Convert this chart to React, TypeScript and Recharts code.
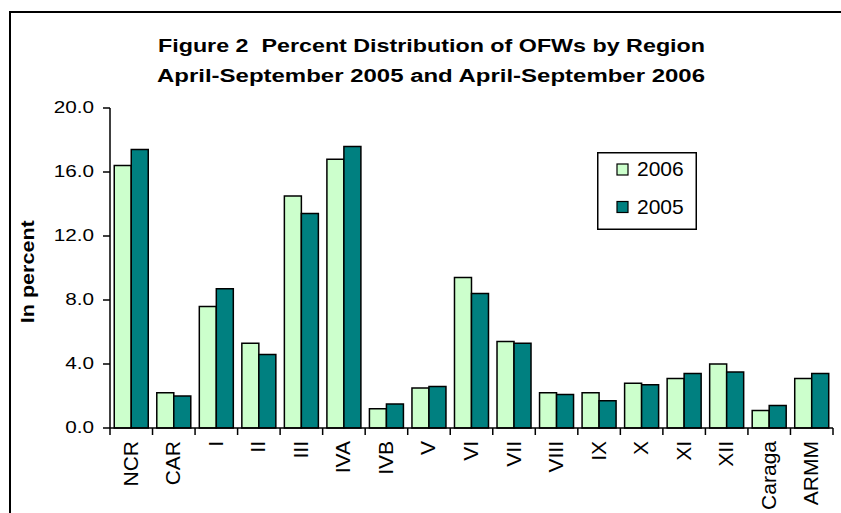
import React from 'react';
import { BarChart, Bar, XAxis, YAxis, Legend } from 'recharts';

const regions = ['NCR', 'CAR', 'I', 'II', 'III', 'IVA', 'IVB', 'V', 'VI', 'VII', 'VIII', 'IX', 'X', 'XI', 'XII', 'Caraga', 'ARMM'];
const values2006 = [16.4, 2.2, 7.6, 5.3, 14.5, 16.8, 1.2, 2.5, 9.4, 5.4, 2.2, 2.2, 2.8, 3.1, 4.0, 1.1, 3.1];
const values2005 = [17.4, 2.0, 8.7, 4.6, 13.4, 17.6, 1.5, 2.6, 8.4, 5.3, 2.1, 1.7, 2.7, 3.4, 3.5, 1.4, 3.4];
const yTicks = [0, 4, 8, 12, 16, 20];
const titleLines = ['Figure 2  Percent Distribution of OFWs by Region', 'April-September 2005 and April-September 2006'];
const seriesNames = ['2006', '2005'];

const data = regions.map((r, i) => ({ region: r, y2006: values2006[i], y2005: values2005[i] }));

const FONT = "'Liberation Sans', Arial, sans-serif";
const LIGHT = '#CCFFCC';
const TEAL = '#008080';

const YTick = (props: any) => {
  const { x, y, payload } = props;
  return (
    <g transform={`translate(${x},${y})`}>
      <text transform="scale(1.22,1)" textAnchor="end" dy={4.6} fontSize={17} fill="#000" fontFamily={FONT}>
        {Number(payload.value).toFixed(1)}
      </text>
    </g>
  );
};

const XTick = (props: any) => {
  const { x, y, payload, index, visibleTicksCount } = props;
  const half = payload.offset;
  const axisY = y - 13;
  return (
    <g>
      <line x1={x - half} x2={x - half} y1={axisY} y2={axisY + 7} stroke="#000" strokeWidth={1.5} />
      {index === visibleTicksCount - 1 && (
        <line x1={x + half} x2={x + half} y1={axisY} y2={axisY + 7} stroke="#000" strokeWidth={1.5} />
      )}
      <text transform={`translate(${x + 6.5},${y}) rotate(-90)`} textAnchor="end" fontSize={21} fill="#000" fontFamily={FONT}>
        {payload.value}
      </text>
    </g>
  );
};

const YLabel = (props: any) => {
  const { viewBox } = props;
  const cy = viewBox.y + viewBox.height / 2 + 3.7;
  return (
    <text transform={`translate(34,${cy}) rotate(-90)`} textAnchor="middle" fontSize={17.5} fontWeight="bold" fill="#000" fontFamily={FONT} textLength={103} lengthAdjust="spacingAndGlyphs">
      In percent
    </text>
  );
};

const LegendBox = () => {
  const colors = [LIGHT, TEAL];
  return (
    <svg width={100} height={78} style={{ display: 'block' }}>
      <rect x={0.75} y={0.75} width={98.5} height={76.5} fill="#fff" stroke="#000" strokeWidth={1.5} />
      {seriesNames.map((n, i) => (
        <g key={n}>
          <rect x={20} y={12 + i * 37.5} width={11} height={11} fill={colors[i]} stroke="#000" strokeWidth={1.2} />
          <text x={40} y={24 + i * 37.5} fontSize={21} fontFamily={FONT} fill="#000">{n}</text>
        </g>
      ))}
    </svg>
  );
};

export default function App() {
  return (
    <div style={{ position: 'absolute', left: 0, top: 0, width: 841, height: 513, overflow: 'hidden', background: '#fff' }}>
      <div style={{ position: 'absolute', left: 9, top: 11, width: 900, height: 600, border: '2px solid #000', boxSizing: 'border-box' }} />
      <svg width={841} height={100} style={{ position: 'absolute', left: 0, top: 0 }}>
        <text x={431.5} y={51.7} textAnchor="middle" fontSize={18.8} fontWeight="bold" fontFamily={FONT} fill="#000" textLength={547} lengthAdjust="spacingAndGlyphs" style={{ whiteSpace: 'pre' }}>
          {titleLines[0]}
        </text>
        <text x={431} y={82} textAnchor="middle" fontSize={18.8} fontWeight="bold" fontFamily={FONT} fill="#000" textLength={548} lengthAdjust="spacingAndGlyphs" style={{ whiteSpace: 'pre' }}>
          {titleLines[1]}
        </text>
      </svg>
      <div style={{ position: 'absolute', left: 0, top: 0 }}>
        <BarChart width={841} height={513} data={data} margin={{ top: 108, right: 8, bottom: 0, left: 0 }} barCategoryGap="10%" barGap={0}>
          <XAxis dataKey="region" height={85} interval={0} tickLine={false} tickSize={6} tickMargin={7} axisLine={{ stroke: '#000', strokeWidth: 1.5 }} tick={<XTick />} />
          <YAxis width={110} domain={[0, 20]} ticks={yTicks} interval={0} tickSize={7} tickMargin={9} axisLine={{ stroke: '#000', strokeWidth: 1.5 }} tickLine={{ stroke: '#000', strokeWidth: 1.5 }} tick={<YTick />} label={<YLabel />} />
          <Legend layout="vertical" align="center" verticalAlign="middle" wrapperStyle={{ left: 597, top: 152, width: 100, height: 78 }} content={<LegendBox />} />
          <Bar dataKey="y2006" name={seriesNames[0]} fill={LIGHT} stroke="#000" strokeWidth={1.5} isAnimationActive={false} />
          <Bar dataKey="y2005" name={seriesNames[1]} fill={TEAL} stroke="#000" strokeWidth={1.5} isAnimationActive={false} />
        </BarChart>
      </div>
    </div>
  );
}
